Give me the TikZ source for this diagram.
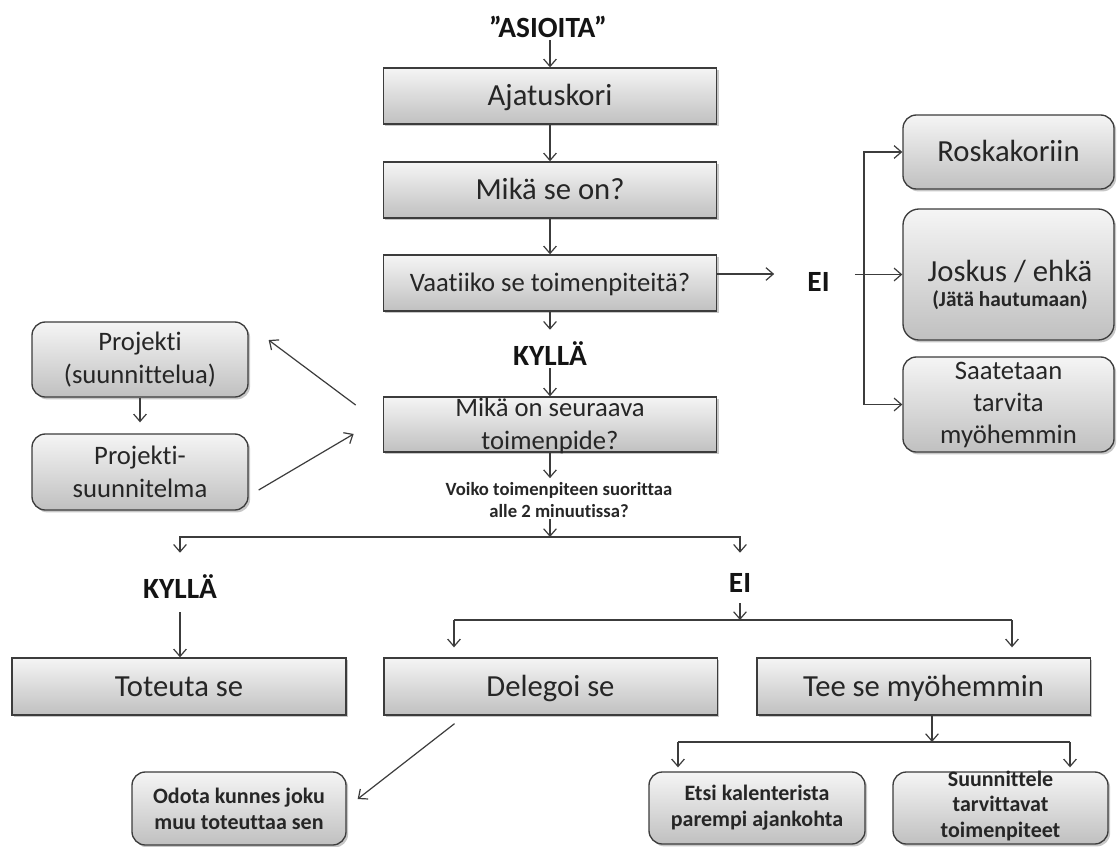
\documentclass[tikz,border=0pt]{standalone}
\usepackage{fontspec}
\setmainfont{Carlito}[Ligatures={NoCommon}]
\usetikzlibrary{arrows.meta,shadows,calc}

\definecolor{edge}{HTML}{3C3C3C}
\definecolor{ink}{HTML}{262626}
\definecolor{boxtop}{HTML}{F5F5F5}
\definecolor{boxbot}{HTML}{C0C0C0}

\newcommand\szBig{\fontsize{23}{27}\selectfont}
\newcommand\szMid{\fontsize{20}{25}\selectfont}
\newcommand\szLab{\bfseries\fontsize{22}{26}\selectfont}
\newcommand\szSmall{\bfseries\fontsize{16.5}{19.5}\selectfont}
\newcommand\szQ{\bfseries\fontsize{14}{16.5}\selectfont}

\tikzset{
  card/.style={draw=edge, line width=1pt, top color=boxtop, bottom color=boxbot,
    text=ink, align=center, inner sep=0pt,
    drop shadow={shadow xshift=1.6pt, shadow yshift=-1.8pt, opacity=0.22, fill=black}},
  % single line of large text: capitals centred in the box
  sqbox/.style={card, minimum width=250pt, minimum height=42pt, font=\szBig,
    text height=14.8pt, text depth=0pt},
  midline/.style={font=\szMid, text height=12.9pt, text depth=0pt},
  rbox/.style={card, rounded corners=10pt},
  txt/.style={text=ink, align=center, inner sep=0pt},
  lab/.style={text=black!92, font=\szLab, inner sep=0pt, text height=15pt, text depth=0pt},
  arr/.style={draw=edge, line width=0.9pt, -{Straight Barb[length=5.5pt,width=9.5pt]}},
  wire/.style={draw=edge, line width=0.9pt},
}

\begin{document}
\begin{tikzpicture}[x=0.75pt,y=-0.75pt]
\fill[white] (0,0) rectangle (1117,846);
\useasboundingbox (0,0) rectangle (1117,846);

% main column
\node[lab] (asioita) at (548,27.5) {”ASIOITA”};
\node[sqbox] (ajatus) at (550,96) {Ajatuskori};
\node[sqbox] (mika) at (550,190) {Mikä se on?};
\node[sqbox, midline] (vaatii) at (550,283) {Vaatiiko se toimenpiteitä?};
\node[lab] (kylla1) at (550,355) {KYLLÄ};
\node[sqbox, minimum height=41.25pt] (seur) at (550,424.5) {};
\node[txt, font=\szMid] (seurtxt) at (550,426) {Mikä on seuraava\\toimenpide?};
\node[txt, font=\szQ] (voiko) at (559,500) {Voiko toimenpiteen suorittaa\\alle 2 minuutissa?};

% "EI" branch on the right
\node[lab] (ei1) at (818.5,281) {EI};
\node[rbox, minimum width=158.25pt, minimum height=55.5pt, font=\szBig,
  text height=14.8pt, text depth=0pt] (rosk) at (1008.5,152) {Roskakoriin};
\node[rbox, minimum width=158.25pt, minimum height=98.25pt, rounded corners=12pt] (josk) at (1008.5,274.5) {};
\node[txt, font=\szBig] (josktxt) at (1010,272) {Joskus / ehkä};
\node[txt, font=\bfseries\fontsize{16}{19}\selectfont] (jatatxt) at (1010,300) {(Jätä hautumaan)};
\node[rbox, minimum width=158.25pt, minimum height=71.25pt, font=\fontsize{20}{24}\selectfont] (saat) at (1008.5,404.5)
  {Saatetaan\\tarvita\\myöhemmin};

% project boxes on the left
\node[rbox, minimum width=162pt, minimum height=56.25pt, font=\szMid] (proj) at (140,359.5) {Projekti\\(suunnittelua)};
\node[rbox, minimum width=162pt, minimum height=57pt, font=\szMid] (projs) at (140,472) {Projekti-\\suunnitelma};

% two-minute question
\coordinate (split) at (550,537);
\node[lab] (kylla2) at (180,588) {KYLLÄ};
\node[lab] (ei2) at (740,582) {EI};
\coordinate (split2) at (740,620);
\coordinate (dl) at (454,620);
\coordinate (tr) at (1012,620);

\node[sqbox, minimum width=250.5pt, minimum height=42.75pt] (toteuta) at (179,686.5) {Toteuta se};
\node[sqbox, minimum height=42.75pt] (deleg) at (550.5,686.5) {Delegoi se};
\node[sqbox, minimum height=42.75pt] (tee) at (923.5,686.5) {Tee se myöhemmin};

\node[rbox, minimum width=160.5pt, minimum height=54.75pt, font=\szSmall] (odota) at (239,808.5) {Odota kunnes joku\\muu toteuttaa sen};
\node[rbox, minimum width=162pt, minimum height=54pt, font=\szSmall] (etsi) at (757,808) {Etsi kalenterista\\parempi ajankohta};
\node[rbox, minimum width=161.25pt, minimum height=54pt] (suun) at (1000.5,808) {};
\node[txt, font=\bfseries\fontsize{16.5}{19}\selectfont] (suuntxt) at (1000.5,806) {Suunnittele\\tarvittavat\\toimenpiteet};
\coordinate (split3) at (932,742);
\coordinate (s3l) at (678,742);
\coordinate (s3r) at (1070,742);

% connectors of the main column
\draw[arr, shorten <=2pt] (asioita.south -| ajatus.north) -- (ajatus.north);
\draw[arr] (ajatus) -- (mika);
\draw[arr] (mika) -- (vaatii);
\draw[arr, shorten >=11.25pt] (vaatii.south) -- (kylla1.north);
\draw[arr, shorten <=2.25pt] (kylla1.south) -- (seur.north);
\draw[arr, shorten >=3pt] (seur.south) -- (seur.south |- voiko.north);
\draw[arr, shorten <=1pt] (split |- voiko.south) -- (split);

% "EI" branch
\draw[arr, shorten >=24.75pt] ([yshift=6.75pt]vaatii.east) -- ([yshift=6.75pt]vaatii.east -| ei1.west);
\coordinate (br) at (864,274);
\draw[arr, shorten <=18.75pt] (ei1.east |- josk.west) -- (josk.west);
\draw[wire, {Straight Barb[length=5.5pt,width=9.5pt]}-{Straight Barb[length=5.5pt,width=9.5pt]}]
  (rosk.west) -- (rosk.west -| br) -- (saat.west -| br) -- (saat.west);

% project loop
\draw[arr] ([xshift=-20.25pt,yshift=14.6pt]seur.west) -- ([xshift=15pt,yshift=14.6pt]proj.east);
\draw[arr, shorten >=8.25pt] (proj.south) -- (projs.north);
\draw[arr] ([xshift=7.5pt,yshift=-13.5pt]projs.east) -- ([xshift=-21.75pt,yshift=-7.1pt]seur.west);

% two-minute split
\draw[arr, shorten >=18.75pt] (split) -| (kylla2.north);
\draw[arr, shorten >=14.25pt] (split) -| (ei2.north);
\draw[arr, shorten <=10.5pt] (kylla2.south) -- (kylla2.south |- toteuta.north);
\draw[arr, shorten <=8.25pt] (ei2.south) -- (split2);
\draw[wire] (dl) -- (tr);
\draw[arr, shorten >=7.5pt] (dl) -- (dl |- deleg.north);
\draw[arr, shorten >=7.5pt] (tr) -- (tr |- tee.north);

% delegation and later
\draw[arr] ([xshift=-72pt,yshift=-6pt]deleg.south) -- ([xshift=8.25pt,yshift=7.1pt]odota.east);
\draw[arr] (tee.south -| split3) -- (split3);
\draw[wire] (s3l) -- (s3r);
\draw[arr, shorten >=3pt] (s3l) -- (s3l |- etsi.north);
\draw[arr, shorten >=3pt] (s3r) -- (s3r |- suun.north);
\end{tikzpicture}
\end{document}
